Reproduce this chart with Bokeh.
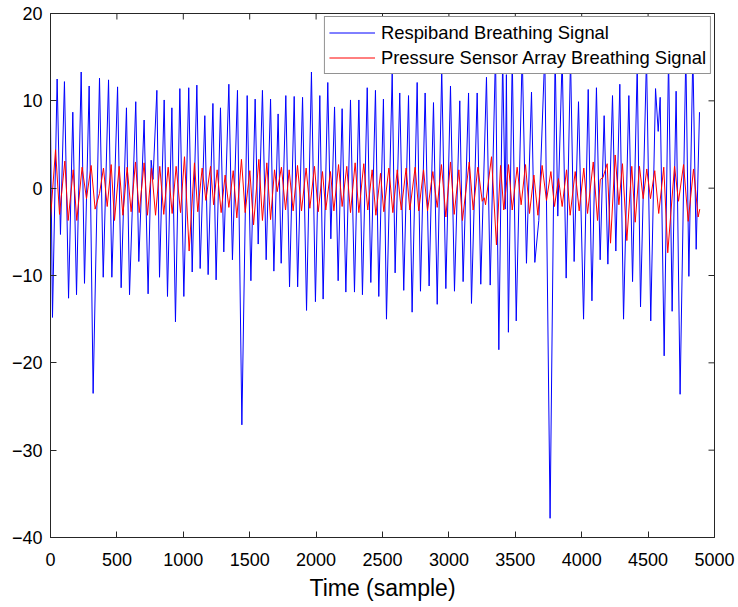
import math
from bokeh.plotting import figure
from bokeh.models import Legend, LegendItem, FixedTicker, Range1d
from bokeh.embed import file_html
from bokeh.resources import INLINE

# Respiband breathing signal: extrema (sample, value)
blue_t = [0, 15, 50, 75, 105, 136, 168, 196, 231, 256, 291, 321, 369, 397, 437, 462, 505, 532, 572, 595,
          642, 665, 705, 735, 758, 772, 801, 821, 856, 881, 914, 941, 974, 1004, 1041, 1067, 1102, 1127, 1162, 1187,
          1223, 1247, 1280, 1305, 1343, 1370, 1408, 1441, 1481, 1509, 1541, 1564, 1596, 1624, 1657, 1682, 1714, 1737,
          1772, 1800, 1835, 1861, 1898, 1928, 1965, 1995, 2028, 2053, 2088, 2111, 2139, 2166, 2196, 2224, 2259, 2289,
          2322, 2349, 2385, 2412, 2447, 2472, 2507, 2530, 2573, 2595, 2630, 2660, 2696, 2723, 2761, 2786, 2821, 2851,
          2884, 2912, 2946, 2977, 3012, 3042, 3082, 3107, 3148, 3170, 3213, 3240, 3283, 3311, 3351, 3376, 3405, 3424,
          3433, 3448, 3477, 3507, 3552, 3584, 3622, 3647, 3677, 3722, 3762, 3800, 3820, 3853, 3883, 3916, 3943, 3976,
          4014, 4049, 4077, 4111, 4139, 4169, 4197, 4232, 4257, 4287, 4315, 4355, 4383, 4418, 4443, 4488, 4520, 4556,
          4576, 4591, 4621, 4654, 4681, 4711, 4741, 4784, 4807, 4837, 4862, 4887]
blue_v = [7.8, -14.8, 12.5, -5.3, 12.2, -12.6, 8.7, -12.2, 13.3, -10.9, 11.7, -23.5, 12.6, -10.2, 12.4, -10.2, 11.6, -11.4, 9.2, -12.2,
          9.9, -8.4, 7.8, -12.1, 3.2, 1.0, 11.2, -10.2, 10.1, -12.4, 9.2, -15.3, 11.4, -12.4, 11.5, -9.6, 11.8, -9.2, 8.3, -9.9,
          9.7, -10.5, 9.2, -7.3, 11.9, -8.2, 11.2, -27.1, 10.6, -10.6, 10.2, -6.4, 11.2, -8.2, 10.2, -9.5, 8.5, -8.6,
          10.6, -11.3, 10.5, -11.3, 10.4, -14.0, 13.3, -13.0, 10.6, -12.7, 12.1, -5.8, 9.3, -10.6, 9.1, -11.9, 10.1, -11.9,
          10.1, -12.2, 11.5, -10.8, 11.2, -12.4, 10.2, -15.0, 13.1, -9.7, 10.9, -11.7, 10.6, -14.2, 12.1, -11.8, 10.9, -11.2,
          9.8, -13.3, 13.6, -11.5, 11.7, -11.8, 10.0, -10.7, 10.9, -13.2, 10.9, -11.0, 12.7, -11.1, 15.5, -18.5, 15.0, -2.4,
          13.0, -16.5, 15.0, -15.2, 15.5, -8.6, 11.0, -8.5, -3.7, 15.5, -37.8, 15.5, -3.2, 15.0, -10.3, 15.0, -8.4, 9.9,
          -15.0, 11.3, -12.9, 11.5, -8.2, 8.3, -8.7, 10.6, -7.2, 11.9, -15.0, 10.6, -10.7, 14.0, -13.6, 15.0, -15.2, 11.4,
          6.5, 10.4, -19.2, 15.0, -14.1, 11.1, -23.6, 15.5, -10.1, 15.5, -7.0, 8.7]

# Pressure sensor array breathing signal: extrema (sample, value)
red_t = [0, 38, 68, 108, 133, 171, 198, 238, 271, 306, 336, 369, 399, 427, 457, 482, 517, 545, 577, 607,
         640, 668, 705, 730, 761, 791, 823, 853, 886, 916, 946, 979, 1009, 1044, 1084, 1109, 1142, 1170, 1205, 1228,
         1255, 1285, 1315, 1343, 1376, 1403, 1438, 1466, 1501, 1529, 1569, 1596, 1629, 1657, 1687, 1707, 1739, 1770,
         1797, 1827, 1860, 1890, 1925, 1953, 1988, 2016, 2048, 2073, 2108, 2134, 2169, 2196, 2231, 2259, 2294, 2322,
         2359, 2389, 2422, 2450, 2485, 2510, 2548, 2578, 2611, 2641, 2678, 2706, 2746, 2773, 2809, 2839, 2879, 2912,
         2944, 2977, 3012, 3040, 3075, 3102, 3153, 3183, 3218, 3251, 3266, 3276, 3321, 3358, 3389, 3413, 3449, 3477,
         3514, 3544, 3577, 3607, 3640, 3670, 3702, 3735, 3768, 3795, 3825, 3853, 3886, 3913, 3951, 3981, 4016, 4044,
         4087, 4119, 4140, 4160, 4192, 4217, 4252, 4280, 4307, 4340, 4377, 4403, 4435, 4463, 4490, 4518, 4550, 4580,
         4618, 4648, 4699, 4729, 4767, 4802, 4842, 4877, 4889]
red_v = [-3.5, 4.4, -3.0, 3.1, -3.7, 2.1, -3.7, 2.4, -1.2, 2.6, -2.4, -0.6, 2.3, -2.1, 2.7, -3.7, 2.5, -3.1, 2.4, -2.7,
         3.0, -2.8, 2.9, -3.1, 2.3, -3.1, 2.5, -3.0, 2.4, -2.9, 2.5, -2.8, 3.6, -7.2, 2.9, -2.7, 2.3, -1.4, 2.5, -1.9,
         2.1, -2.8, 1.5, -2.2, 2.0, -3.4, 3.3, -2.8, 2.0, -4.2, 3.3, -3.7, 2.9, -3.6, 2.1, -0.4, 2.4, -2.5,
         2.1, -2.6, 2.6, -2.6, 2.3, -2.3, 2.5, -2.7, 1.9, -2.5, 1.9, -2.6, 2.7, -2.1, 2.5, -2.8, 2.9, -2.8,
         2.8, -2.5, 2.1, -3.1, 1.7, -2.7, 2.3, -2.8, 2.1, -2.5, 2.3, -2.5, 2.4, -2.6, 2.1, -2.6, 1.9, -2.2,
         2.7, -3.3, 3.0, -3.0, 2.1, -3.7, 3.0, -2.5, 2.4, -1.5, -1.1, -1.9, 3.6, -6.5, 2.6, -2.5, 2.7, -2.5,
         2.4, -1.9, 2.7, -2.9, 1.5, -3.1, 2.6, -1.4, 1.9, -2.1, 1.1, -2.1, 2.1, -3.1, 1.9, -2.6, 2.3, -2.9,
         3.0, -3.7, 1.0, 1.2, 2.8, -6.3, 3.8, -1.9, 2.8, -6.0, 2.5, -3.9, 2.5, -1.2, 2.2, -1.2, 2.0, -2.9,
         2.4, -7.4, 2.5, -1.5, 2.7, -3.8, 2.2, -3.3, -2.4]

x_ticks = [0, 500, 1000, 1500, 2000, 2500, 3000, 3500, 4000, 4500, 5000]
y_ticks = [-40, -30, -20, -10, 0, 10, 20]
x_label = "Time (sample)"
series_names = ["Respiband Breathing Signal", "Pressure Sensor Array Breathing Signal"]

FONT = "Liberation Sans"
AX = "#262626"
X0, X1 = 0, 5000
Y0, Y1 = -40, 20

p = figure(width=738, height=607, output_backend="svg", toolbar_location=None,
           x_range=Range1d(X0, X1), y_range=Range1d(Y0, Y1),
           min_border_left=50, min_border_right=24, min_border_top=13, min_border_bottom=70)
p.xgrid.visible = False
p.ygrid.visible = False
p.outline_line_color = AX
p.outline_line_width = 1
p.background_fill_color = "white"
p.border_fill_color = "white"

r_blue = p.line(blue_t, blue_v, line_color="#0000FF", line_width=1)
r_red = p.line(red_t, red_v, line_color="#FF0000", line_width=1)

# inward tick marks on the top and right edges of the box (clipped to the frame)
p.scatter(x=x_ticks, y=[Y1] * len(x_ticks), marker="dash", angle=math.pi / 2, size=12,
          line_color=AX, line_width=1)
p.scatter(x=[X1] * len(y_ticks), y=y_ticks, marker="dash", size=12, line_color=AX, line_width=1)

for ax in (p.xaxis[0], p.yaxis[0]):
    ax.axis_line_color = AX
    ax.major_tick_line_color = AX
    ax.major_tick_in = 6
    ax.major_tick_out = 0
    ax.minor_tick_line_color = None
    ax.major_label_text_font = FONT
    ax.major_label_text_font_size = "18px"
    ax.major_label_text_color = "#000000"

p.xaxis.ticker = FixedTicker(ticks=x_ticks)
p.yaxis.ticker = FixedTicker(ticks=y_ticks)
p.xaxis.major_label_standoff = 15
p.yaxis.major_label_standoff = 8
p.xaxis.axis_label = x_label
p.xaxis.axis_label_text_font = FONT
p.xaxis.axis_label_text_font_size = "23px"
p.xaxis.axis_label_text_font_style = "normal"
p.xaxis.axis_label_text_color = "#000000"
p.xaxis.axis_label_standoff = 6

legend = Legend(items=[LegendItem(label=series_names[0], renderers=[r_blue]),
                       LegendItem(label=series_names[1], renderers=[r_red])],
                location="top_right")
legend.margin = 3
legend.padding = 4
legend.spacing = 2
legend.glyph_width = 46
legend.glyph_height = 23
legend.label_standoff = 6
legend.label_text_font = FONT
legend.label_text_font_size = "18.4px"
legend.label_text_color = "#000000"
legend.border_line_color = AX
legend.border_line_width = 1
legend.background_fill_color = "white"
legend.background_fill_alpha = 1.0
p.add_layout(legend, "center")

open("out.html", "w").write(file_html(p, INLINE))
